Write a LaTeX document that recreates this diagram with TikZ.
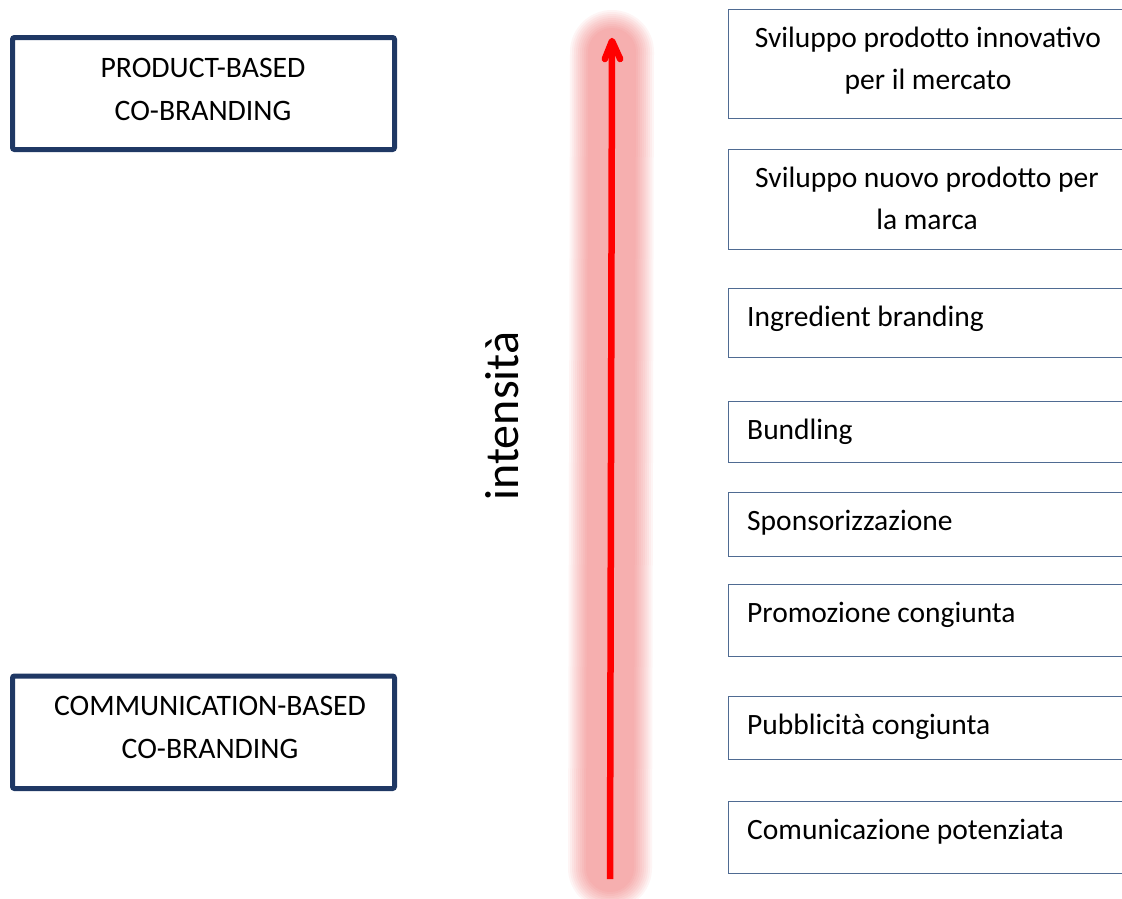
\documentclass[tikz,border=0pt]{standalone}
\usepackage{fontspec}
\setmainfont{Carlito}
\definecolor{navy}{HTML}{1F3864}
\definecolor{slate}{HTML}{4F6B92}
\definecolor{glowred}{HTML}{E83A3A}
\tikzset{
  lbox/.style={draw=navy, line width=5pt, rounded corners=2pt, minimum width=382pt, inner sep=0pt},
  rbox/.style={draw=slate, line width=1.4pt, anchor=north west, minimum width=420pt, inner sep=0pt},
  lbl/.style={font=\fontsize{29.5}{42}\selectfont, inner sep=0pt},
  llbl/.style={font=\fontsize{29.7}{43}\selectfont, inner sep=0pt},
  glow/.style={draw=glowred, line cap=round, opacity=0.05},
  axis/.style={draw=red, line width=6.5pt},
  barb/.style={draw=red, line width=6.5pt, line cap=round, line join=round}
}
\begin{document}
\begin{tikzpicture}[x=1pt,y=-1pt]
\useasboundingbox (0,0) rectangle (1122,898);
\clip (0,0) rectangle (1122,898);

% left boxes
\node[lbox, minimum height=112pt] (pb) at (203.5,93.5) {};
\node[llbl, anchor=base] (pbt) at (203,77) {\begin{tabular}[t]{@{}c@{}}PRODUCT-BASED\\CO-BRANDING\end{tabular}};
\node[lbox, minimum height=112.5pt] (cb) at (203.5,732.25) {};
\node[llbl, anchor=base] (cbt) at (210,715) {\begin{tabular}[t]{@{}c@{}}COMMUNICATION-BASED\\CO-BRANDING\end{tabular}};

% glow of the axis
\coordinate (gb) at (610,868);
\coordinate (gt) at (612,52);
\foreach \w in {48,52,...,84} { \draw[glow, line width=\w pt] (gb) -- (gt); }

% axis arrow
\coordinate (abot) at (610,879);
\coordinate (atop) at (612,41);
\coordinate (wl) at (604.8,59);
\coordinate (wr) at (620.2,59);
\draw[axis] (abot) -- (atop);
\draw[barb] (wl) -- (atop) -- (wr);

% axis label
\node[font=\fontsize{48}{50}\selectfont, inner sep=0pt, rotate=90, anchor=base] (int) at (518,416) {intensità};

% right boxes
\node[rbox, minimum height=109pt] (r1) at (728,9) {};
\node[lbl, anchor=base] (t1) at (928,47) {\begin{tabular}[t]{@{}c@{}}Sviluppo prodotto innovativo\\per il mercato\end{tabular}};
\node[rbox, minimum height=100pt] (r2) at (728,149) {};
\node[lbl, anchor=base] (t2) at (927,187) {\begin{tabular}[t]{@{}c@{}}Sviluppo nuovo prodotto per\\la marca\end{tabular}};
\node[rbox, minimum height=69pt] (r3) at (728,288) {};
\node[lbl, anchor=base west] (t3) at (747,326) {Ingredient branding};
\node[rbox, minimum height=61pt] (r4) at (728,401) {};
\node[lbl, anchor=base west] (t4) at (747,439) {Bundling};
\node[rbox, minimum height=64pt] (r5) at (728,492) {};
\node[lbl, anchor=base west] (t5) at (747,530) {Sponsorizzazione};
\node[rbox, minimum height=72pt] (r6) at (728,584) {};
\node[lbl, anchor=base west] (t6) at (747,622) {Promozione congiunta};
\node[rbox, minimum height=63pt] (r7) at (728,696) {};
\node[lbl, anchor=base west] (t7) at (747,734) {Pubblicità congiunta};
\node[rbox, minimum height=72pt] (r8) at (728,801) {};
\node[lbl, anchor=base west] (t8) at (747,839) {Comunicazione potenziata};
\end{tikzpicture}
\end{document}
